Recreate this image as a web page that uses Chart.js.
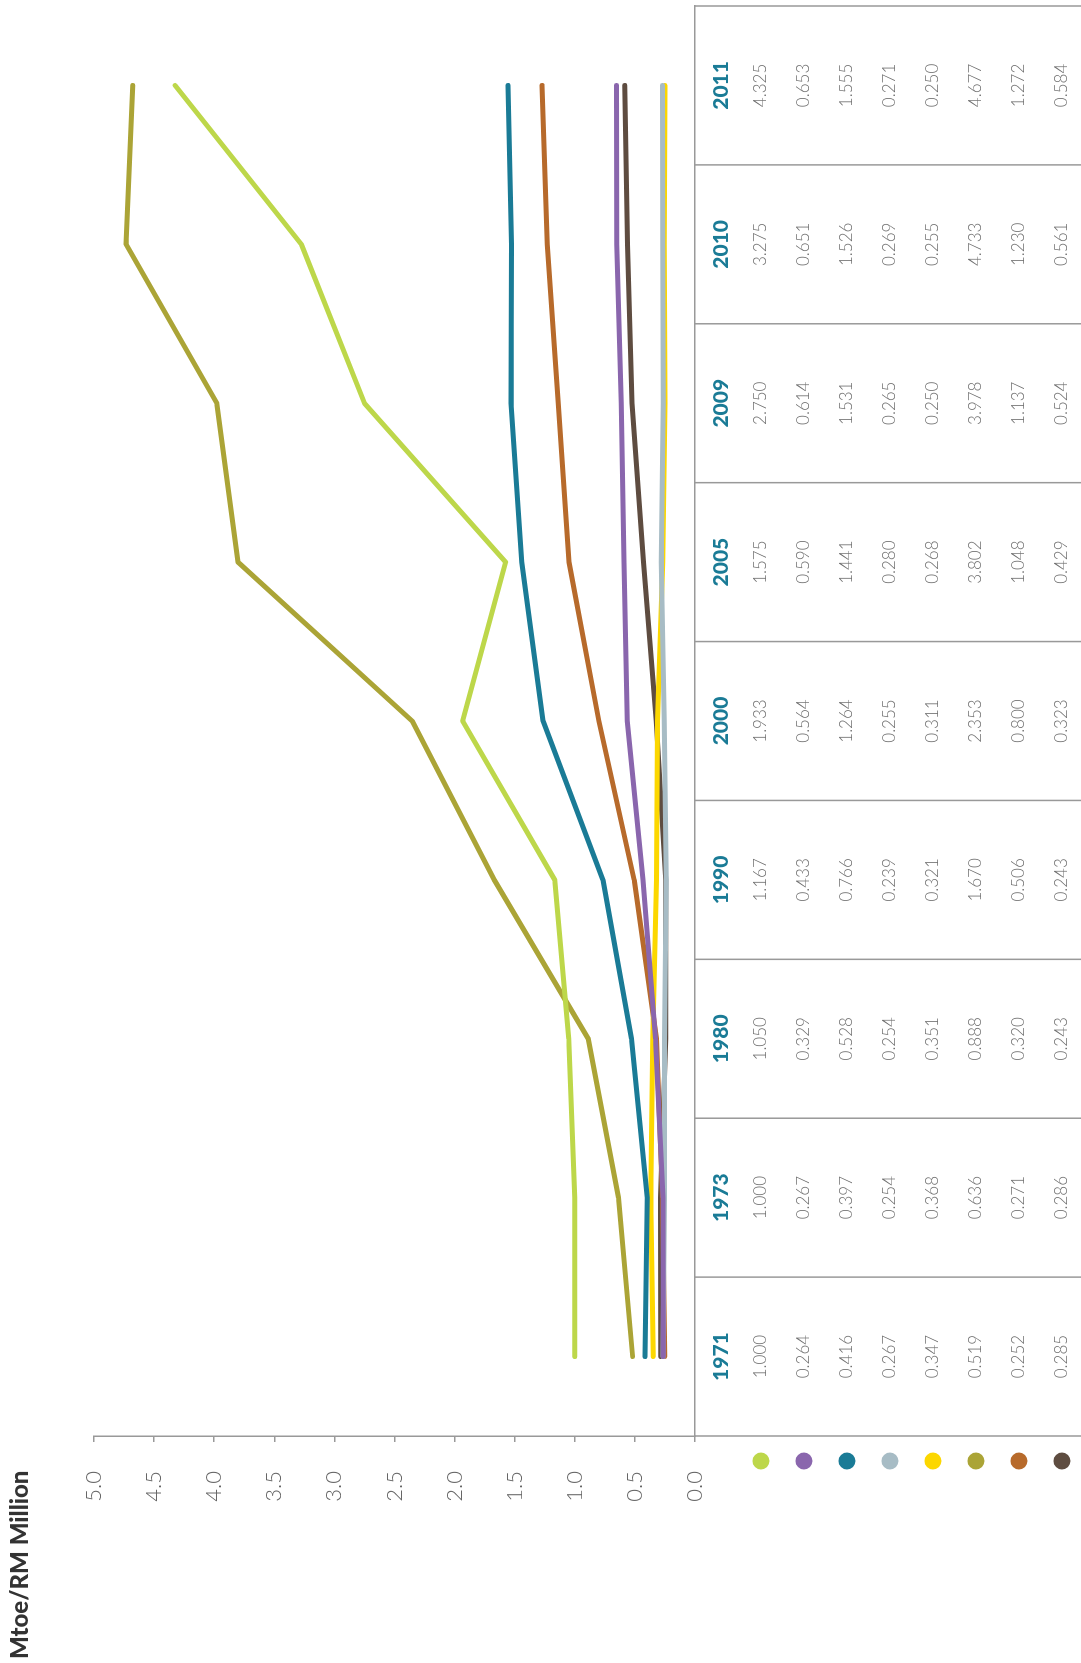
<!DOCTYPE html>
<html>
<head>
<meta charset="utf-8">
<script src="https://cdn.jsdelivr.net/npm/chart.js@4"></script>
<style>
  html, body { margin: 0; padding: 0; background: #fff; overflow: hidden; }
  #wrap {
    position: absolute; left: 0; top: 0;
    width: 1663px; height: 1081px;
    transform-origin: 0 0;
    transform: translate(0, 1663px) rotate(-90deg);
  }
</style>
</head>
<body>
<div id="wrap"><canvas id="intensityChart" width="1663" height="1081"></canvas></div>
<script>
// years along the table / x axis
const years = ["1971", "1973", "1980", "1990", "2000", "2005", "2009", "2010", "2011"];

// one array per line (same order as the table rows)
const seriesGreen  = [1.000, 1.000, 1.050, 1.167, 1.933, 1.575, 2.750, 3.275, 4.325];
const seriesPurple = [0.264, 0.267, 0.329, 0.433, 0.564, 0.590, 0.614, 0.651, 0.653];
const seriesTeal   = [0.416, 0.397, 0.528, 0.766, 1.264, 1.441, 1.531, 1.526, 1.555];
const seriesGrey   = [0.267, 0.254, 0.254, 0.239, 0.255, 0.280, 0.265, 0.269, 0.271];
const seriesYellow = [0.347, 0.368, 0.351, 0.321, 0.311, 0.268, 0.250, 0.255, 0.250];
const seriesOlive  = [0.519, 0.636, 0.888, 1.670, 2.353, 3.802, 3.978, 4.733, 4.677];
const seriesOrange = [0.252, 0.271, 0.320, 0.506, 0.800, 1.048, 1.137, 1.230, 1.272];
const seriesBrown  = [0.285, 0.286, 0.243, 0.243, 0.323, 0.429, 0.524, 0.561, 0.584];

const yTicks = [0, 0.5, 1, 1.5, 2, 2.5, 3, 3.5, 4, 4.5, 5];

const allSeries = [seriesGreen, seriesPurple, seriesTeal, seriesGrey, seriesYellow, seriesOlive, seriesOrange, seriesBrown];
const colors = ["#bdd74a", "#8a66ad", "#1a7b96", "#a7bcc5", "#fcd700", "#aba436", "#b76a2b", "#5e4c40"];

const FONT = "Lato, 'Open Sans', sans-serif";

// draws the number table, the coloured dots and the unit title
const tablePlugin = {
    id: "tablePlugin",
    afterDraw(chart) {
        const ctx = chart.ctx;
        const x = chart.scales.x;
        const area = chart.chartArea;
        const step = x.getPixelForValue(1) - x.getPixelForValue(0);
        const bottom = chart.height;

        ctx.save();
        ctx.strokeStyle = "#999";
        ctx.lineWidth = 1.5;
        for (let i = 0; i <= years.length; i++) {
            const px = x.getPixelForValue(0) - step / 2 + i * step;
            ctx.beginPath();
            ctx.moveTo(px, area.bottom);
            ctx.lineTo(px, bottom);
            ctx.stroke();
        }

        ctx.font = "300 17px " + FONT;
        ctx.textAlign = "center";
        ctx.textBaseline = "middle";
        allSeries.forEach((values, s) => {
            const rowY = 761 + s * 43;
            ctx.fillStyle = "#707070";
            values.forEach((v, i) => {
                ctx.fillText(v.toFixed(3), x.getPixelForValue(i), rowY);
            });
            ctx.beginPath();
            ctx.fillStyle = colors[s];
            ctx.arc(202, rowY, 8.5, 0, Math.PI * 2);
            ctx.fill();
        });

        ctx.font = "900 24px " + FONT;
        ctx.fillStyle = "#333";
        ctx.textAlign = "left";
        ctx.fillText("Mtoe/RM Million", 4, 20);
        ctx.restore();
    }
};

const ctx = document.getElementById("intensityChart").getContext("2d");

new Chart(ctx, {
    type: "line",
    data: {
        labels: years,
        datasets: allSeries.map((values, i) => ({
            label: "Series " + (i + 1),
            data: values,
            borderColor: colors[i],
            backgroundColor: colors[i],
            borderWidth: 5,
            borderCapStyle: "round",
            borderJoinStyle: "round",
            pointRadius: 0,
            tension: 0,
            fill: false
        }))
    },
    options: {
        responsive: false,
        animation: false,
        layout: { padding: { left: 0, top: 94, right: 6, bottom: 0 } },
        plugins: {
            legend: { display: false },
            tooltip: { enabled: false }
        },
        scales: {
            x: {
                offset: true,
                grid: { display: false, drawTicks: false },
                border: { display: true, color: "#999", width: 1.5 },
                ticks: {
                    color: "#1a7b96",
                    font: { family: FONT, size: 21, weight: "900" },
                    padding: 14,
                    maxRotation: 0
                },
                afterFit(scale) { scale.height = 386; }
            },
            y: {
                min: 0,
                max: 5,
                afterBuildTicks(scale) { scale.ticks = yTicks.map(v => ({ value: v })); },
                grid: { drawOnChartArea: false, color: "#999", lineWidth: 1.5, tickLength: 6 },
                border: { display: true, color: "#999", width: 1.5 },
                ticks: {
                    color: "#666",
                    font: { family: FONT, size: 22, weight: "300" },
                    padding: 29,
                    callback: v => Number(v).toFixed(1)
                },
                afterFit(scale) { scale.width = 227; }
            }
        }
    },
    plugins: [tablePlugin]
});
</script>
</body>
</html>
